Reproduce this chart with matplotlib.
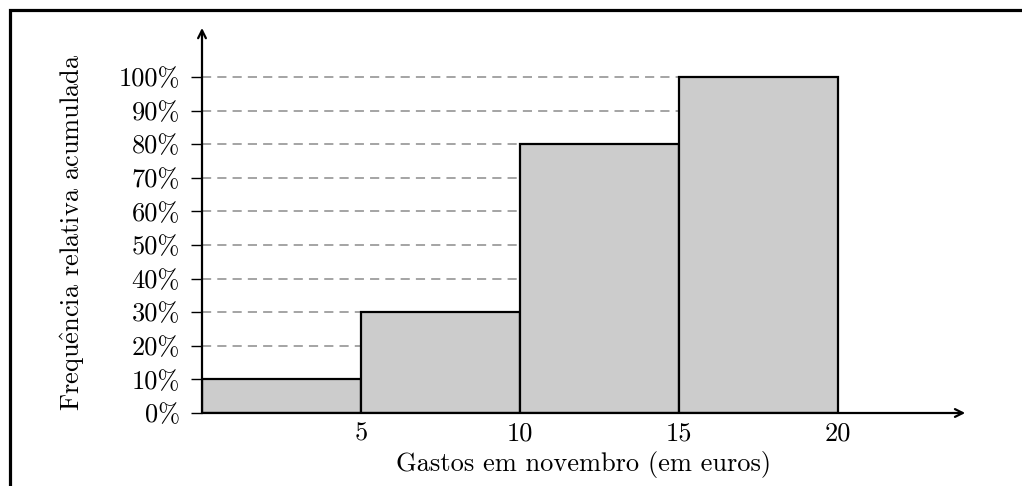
import matplotlib
matplotlib.use("Agg")
import matplotlib.pyplot as plt
from matplotlib.patches import Rectangle

plt.rcParams['font.family'] = ['cmr10', 'DejaVu Serif']
plt.rcParams['mathtext.fontset'] = 'cm'
plt.rcParams['axes.unicode_minus'] = False

# data
bin_edges = [0, 5, 10, 15, 20]
cum_freq = [10, 30, 80, 100]
y_ticks = [0, 10, 20, 30, 40, 50, 60, 70, 80, 90, 100]
y_tick_labels = ['0%', '10%', '20%', '30%', '40%', '50%', '60%', '70%', '80%', '90%', '100%']
x_ticks = [5, 10, 15, 20]
x_tick_labels = ['5', '10', '15', '20']
x_label = 'Gastos em novembro (em euros)'
y_label = r'Frequ$\hat{\mathrm{e}}$ncia relativa acumulada'

FS = 19
W, H = 1022, 486
fig = plt.figure(figsize=(W / 100, H / 100), dpi=100)

x0_px, unit_px = 202, 31.8
y0_px, pct_px = 413, 3.36
xmax, ymax = 24.2, 116
ax_w = xmax * unit_px
ax_h = ymax * pct_px
ax = fig.add_axes([x0_px / W, (H - y0_px) / H, ax_w / W, ax_h / H])
ax.set_xlim(0, xmax)
ax.set_ylim(0, ymax)

# frame around figure
fig.patches.append(Rectangle((10 / W, -0.1), 1.2, (H - 10) / H + 0.1, transform=fig.transFigure,
                             fill=False, lw=2.3, edgecolor='black'))

# dashed guide lines
for t in y_ticks[1:]:
    ax.plot([0, bin_edges[-1]], [t, t], color='#8c8c8c', lw=1.1, dashes=(6, 4), zorder=1)

# bars
widths = [bin_edges[i + 1] - bin_edges[i] for i in range(len(cum_freq))]
ax.bar(bin_edges[:-1], cum_freq, width=widths, align='edge', color='#cccccc',
       edgecolor='black', linewidth=1.6, zorder=2)

for s in ax.spines.values():
    s.set_visible(False)

# axes with arrows
ax.annotate('', xy=(24.0, 0), xytext=(0, 0),
            arrowprops=dict(arrowstyle='->', lw=1.6, color='black', shrinkA=0, shrinkB=0,
                            mutation_scale=14), zorder=3, annotation_clip=False)
ax.annotate('', xy=(0, 114.6), xytext=(0, 0),
            arrowprops=dict(arrowstyle='->', lw=1.6, color='black', shrinkA=0, shrinkB=0,
                            mutation_scale=14), zorder=3, annotation_clip=False)

ax.set_yticks(y_ticks)
ax.set_yticklabels(y_tick_labels, fontsize=FS)
ax.set_xticks(x_ticks)
ax.set_xticklabels(x_tick_labels, fontsize=FS)
ax.tick_params(axis='y', length=8, width=1.0, pad=8)
ax.tick_params(axis='x', length=0, pad=6)

ax.set_xlabel(x_label, fontsize=FS)
ax.xaxis.set_label_coords((584 - x0_px) / ax_w, -(451 - y0_px) / ax_h)
ax.set_ylabel(y_label, fontsize=FS)
ax.yaxis.set_label_coords((87 - x0_px) / ax_w, (413 - 232) / ax_h)

fig.savefig('out.png', dpi=100)
